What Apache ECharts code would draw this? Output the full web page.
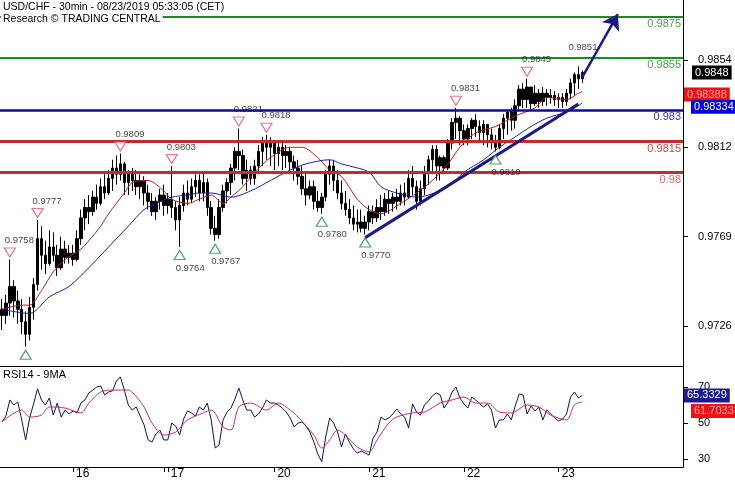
<!DOCTYPE html>
<html><head><meta charset="utf-8">
<script src="https://cdn.jsdelivr.net/npm/echarts@6/dist/echarts.min.js"></script>
<style>html,body{margin:0;padding:0;background:#fff}#c{width:735px;height:480px}</style>
</head><body><div id="c"></div>
<script>
// ---- data (hourly bars, [open, close, low, high]) ----
const candles = [
[0.9734,0.9731,0.9724,0.9739],[0.9731,0.9737,0.9727,0.9741],[0.9737,0.9745,0.9731,0.9758],[0.9745,0.9738,0.9730,0.9748],
[0.9738,0.9734,0.9727,0.9743],[0.9734,0.9728,0.9722,0.9739],[0.9728,0.9722,0.9716,0.9733],[0.9722,0.9735,0.9719,0.9740],
[0.9735,0.9746,0.9729,0.9749],[0.9746,0.9768,0.9743,0.9777],[0.9768,0.9760,0.9753,0.9774],[0.9760,0.9756,0.9751,0.9767],
[0.9756,0.9764,0.9755,0.9772],[0.9764,0.9760,0.9757,0.9771],[0.9760,0.9754,0.9750,0.9765],[0.9754,0.9763,0.9753,0.9769],
[0.9763,0.9759,0.9756,0.9767],[0.9759,0.9761,0.9756,0.9765],[0.9761,0.9758,0.9755,0.9765],[0.9758,0.9768,0.9757,0.9772],
[0.9768,0.9778,0.9765,0.9782],[0.9778,0.9783,0.9772,0.9787],[0.9783,0.9781,0.9775,0.9789],[0.9781,0.9788,0.9779,0.9791],
[0.9788,0.9785,0.9782,0.9794],[0.9785,0.9793,0.9784,0.9797],[0.9793,0.9790,0.9787,0.9799],[0.9790,0.9797,0.9789,0.9801],
[0.9797,0.9802,0.9791,0.9806],[0.9802,0.9799,0.9794,0.9808],[0.9799,0.9804,0.9796,0.9809],[0.9804,0.9795,0.9789,0.9805],
[0.9795,0.9799,0.9789,0.9801],[0.9799,0.9796,0.9791,0.9802],[0.9796,0.9793,0.9789,0.9801],[0.9793,0.9796,0.9787,0.9799],
[0.9796,0.9790,0.9784,0.9798],[0.9790,0.9786,0.9782,0.9794],[0.9786,0.9781,0.9779,0.9790],[0.9781,0.9786,0.9777,0.9788],
[0.9786,0.9789,0.9782,0.9792],[0.9789,0.9784,0.9779,0.9794],[0.9784,0.9787,0.9780,0.9790],[0.9787,0.9783,0.9778,0.9803],
[0.9783,0.9777,0.9772,0.9786],[0.9777,0.9784,0.9764,0.9788],[0.9784,0.9790,0.9781,0.9794],[0.9790,0.9787,0.9784,0.9796],
[0.9787,0.9793,0.9785,0.9797],[0.9793,0.9796,0.9788,0.9799],[0.9796,0.9790,0.9786,0.9799],[0.9790,0.9795,0.9786,0.9800],
[0.9795,0.9783,0.9779,0.9797],[0.9783,0.9773,0.9770,0.9786],[0.9773,0.9770,0.9767,0.9779],[0.9770,0.9783,0.9768,0.9787],
[0.9783,0.9791,0.9781,0.9794],[0.9791,0.9795,0.9785,0.9797],[0.9795,0.9802,0.9789,0.9804],[0.9802,0.9810,0.9796,0.9812],
[0.9810,0.9808,0.9801,0.9821],[0.9808,0.9797,0.9794,0.9811],[0.9797,0.9801,0.9791,0.9806],[0.9801,0.9797,0.9794,0.9803],
[0.9797,0.9803,0.9794,0.9806],[0.9803,0.9810,0.9799,0.9813],[0.9810,0.9815,0.9803,0.9817],[0.9815,0.9812,0.9806,0.9818],
[0.9812,0.9814,0.9803,0.9817],[0.9814,0.9809,0.9801,0.9815],[0.9809,0.9812,0.9803,0.9814],[0.9812,0.9808,0.9801,0.9814],
[0.9808,0.9810,0.9802,0.9813],[0.9810,0.9805,0.9799,0.9812],[0.9805,0.9802,0.9796,0.9808],[0.9802,0.9798,0.9794,0.9806],
[0.9798,0.9792,0.9789,0.9803],[0.9792,0.9789,0.9784,0.9799],[0.9789,0.9793,0.9787,0.9796],[0.9793,0.9786,0.9782,0.9796],
[0.9786,0.9783,0.9781,0.9791],[0.9783,0.9788,0.9780,0.9790],[0.9788,0.9799,0.9786,0.9801],[0.9799,0.9803,0.9794,0.9806],
[0.9803,0.9796,0.9791,0.9806],[0.9796,0.9790,0.9787,0.9801],[0.9790,0.9785,0.9782,0.9796],[0.9785,0.9782,0.9779,0.9791],
[0.9782,0.9778,0.9775,0.9787],[0.9778,0.9775,0.9772,0.9784],[0.9775,0.9776,0.9771,0.9782],[0.9776,0.9773,0.9771,0.9782],
[0.9773,0.9776,0.9770,0.9779],[0.9776,0.9781,0.9772,0.9784],[0.9781,0.9778,0.9775,0.9784],[0.9778,0.9783,0.9776,0.9787],
[0.9783,0.9781,0.9777,0.9789],[0.9781,0.9787,0.9779,0.9790],[0.9787,0.9785,0.9780,0.9791],[0.9785,0.9788,0.9781,0.9790],
[0.9788,0.9786,0.9782,0.9792],[0.9786,0.9790,0.9784,0.9794],[0.9790,0.9788,0.9784,0.9795],[0.9788,0.9797,0.9787,0.9801],
[0.9797,0.9793,0.9789,0.9803],[0.9793,0.9786,0.9782,0.9796],[0.9786,0.9792,0.9784,0.9796],[0.9792,0.9800,0.9789,0.9803],
[0.9800,0.9806,0.9794,0.9808],[0.9806,0.9811,0.9799,0.9813],[0.9811,0.9803,0.9796,0.9813],[0.9803,0.9807,0.9796,0.9808],
[0.9807,0.9802,0.9799,0.9808],[0.9802,0.9814,0.9801,0.9816],[0.9814,0.9824,0.9811,0.9826],[0.9824,0.9826,0.9816,0.9831],
[0.9826,0.9820,0.9813,0.9827],[0.9820,0.9816,0.9813,0.9823],[0.9816,0.9821,0.9813,0.9823],[0.9821,0.9825,0.9816,0.9826],
[0.9825,0.9822,0.9817,0.9828],[0.9822,0.9819,0.9815,0.9825],[0.9819,0.9823,0.9813,0.9825],[0.9823,0.9818,0.9812,0.9823],
[0.9818,0.9815,0.9811,0.9821],[0.9815,0.9812,0.9810,0.9818],[0.9812,0.9821,0.9811,0.9823],[0.9821,0.9826,0.9816,0.9828],
[0.9826,0.9829,0.9818,0.9830],[0.9829,0.9825,0.9820,0.9831],[0.9825,0.9832,0.9821,0.9835],[0.9832,0.9840,0.9830,0.9842],
[0.9840,0.9835,0.9831,0.9843],[0.9835,0.9841,0.9831,0.9845],[0.9841,0.9833,0.9830,0.9841],[0.9833,0.9838,0.9832,0.9842],
[0.9838,0.9834,0.9831,0.9840],[0.9834,0.9838,0.9832,0.9841],[0.9838,0.9836,0.9832,0.9840],[0.9836,0.9837,0.9833,0.9840],
[0.9837,0.9835,0.9832,0.9839],[0.9835,0.9836,0.9831,0.9838],[0.9836,0.9834,0.9831,0.9838],[0.9834,0.9838,0.9832,0.9840],
[0.9838,0.9843,0.9835,0.9845],[0.9843,0.9847,0.9837,0.9848],[0.9847,0.9845,0.9840,0.9851],[0.9845,0.9848,0.9843,0.9849]
];
// moving averages as [barIndex, value]
const redMA = [[0,0.9734],[5,0.9736],[7,0.9736],[10,0.9743],[13,0.9752],[16,0.9758],[20,0.9763],[22,0.9767],[25,0.9774],[27,0.9780],[31,0.9790],[33,0.9795],[37,0.9796],[41,0.9791],[43,0.9787],[47,0.9785],[50,0.9787],[53,0.9789],[56,0.9785],[58,0.9788],[61,0.9793],[64,0.9800],[68,0.9807],[73,0.9812],[76,0.9812],[80,0.9807],[83,0.9801],[86,0.9798],[90,0.9787],[93,0.9782],[96,0.9780],[101,0.9785],[105,0.9790],[109,0.9796],[113,0.9804],[116,0.9812],[120,0.9819],[125,0.9822],[130,0.9827],[135,0.9831],[138,0.9836],[143,0.9835],[146,0.9838],[147,0.98388]];
const blueMA = [[0,0.9734],[7,0.9732],[12,0.9740],[17,0.9745],[22,0.9754],[27,0.9764],[32,0.9774],[36,0.9782],[39,0.9785],[43,0.9788],[47,0.9789],[50,0.9790],[53,0.9790],[58,0.9788],[63,0.9791],[68,0.9796],[73,0.9801],[77,0.9804],[83,0.9806],[86,0.9804],[88,0.9803],[93,0.9800],[96,0.9793],[100,0.9790],[105,0.9788],[108,0.9789],[113,0.9793],[117,0.9800],[122,0.9806],[126,0.9812],[130,0.9817],[134,0.9822],[138,0.9826],[143,0.9829],[146,0.9832],[147,0.98334]];
const rsi = [50.6,53.9,62.8,60,61.7,51.7,40.6,52.8,60.6,69,
62.8,60,63.9,54.4,61.1,53.3,57.2,55,56.7,55.6,
61.1,62.8,66.7,68.3,70,70.6,65.6,67.2,67.8,73.3,
75.6,68.3,60,57.2,58.9,53.9,48.9,40.6,39.4,43.9,
46.1,40.6,40.6,50,48.3,43.3,52.2,56.7,55.6,53.9,
58.9,57.2,61.1,51.7,36.1,37.8,51.7,56.1,58.3,63.3,
69.4,62.8,57.2,57.2,53.3,55,58.3,62.8,61.1,61.1,
60,58.3,56.1,52.8,47.8,50,50.6,48.3,45,39.4,
32.8,28.5,42.2,52.8,50,45,36.7,43.9,39.4,35.6,
33.3,34.4,33.3,32.2,41.7,45,53.3,51.7,52.8,55,
57.8,55,53.3,47.2,60.6,56.1,54.4,60,62.2,65,
66.7,65.6,58.3,61.7,67.2,70,63.9,60.6,58.3,64.4,
62.8,60.6,58.9,60.6,57.2,47.2,51.7,51.7,55,51.7,
59.4,66.1,65.6,55,59.4,56.7,58.9,51.7,57.2,55,
52.8,51.1,52.2,55,64.4,67.2,63.9,65.33];
const rsiMA = [[0,50.6],[5,57.2],[7,53.3],[10,54.4],[12,58.9],[16,58.3],[20,55.6],[22,61.1],[25,67.2],[28,68.3],[32,68.3],[33,67.2],[36,58.9],[38,50],[41,43.3],[44,45],[47,51.7],[51,55.6],[53,57.2],[56,47.8],[58,46.1],[60,58.9],[63,61.1],[67,57.2],[70,61.1],[73,57.2],[75,53.3],[79,43.3],[81,36.1],[83,40.6],[85,46.1],[87,43.3],[90,36.7],[93,33.9],[95,40.6],[98,50],[100,53.3],[104,55.6],[107,56.1],[111,61.1],[114,62.8],[117,64.4],[120,61.1],[123,61.1],[126,56.1],[129,55.6],[133,60],[136,58.9],[139,54.4],[143,51.7],[145,60],[147,61.7]];
// horizontal levels
const levelValues = [0.9875, 0.9855, 0.9830, 0.9815, 0.9800];
const levelLabels = ['0.9875', '0.9855', '0.983', '0.9815', '0.98'];
// swing markers [barIndex, price]
const highMarks = [[2,0.9758],[9,0.9777],[30,0.9809],[43,0.9803],[60,0.9821],[67,0.9818],[115,0.9831],[133,0.9845]];
const lowMarks = [[6,0.9716],[45,0.9764],[54,0.9767],[81,0.9780],[92,0.9770],[125,0.9810]];
const lowLabeled = [[45,0.9764],[54,0.9767],[81,0.9780],[92,0.9770],[125,0.9810]];
const peakLabel = [[146,0.9851]];
// trendline and projection arrow [barIndex, price]
const trendLine = [[92,0.97685],[146,0.98328]];
const projection = [[147,0.98458],[156,0.98761]];
// last values for axis tags
const lastPrice = 0.9848, lastRed = 0.98388, lastBlue = 0.98334, lastRsi = 65.3329, lastRsiMA = 61.7033;
// ticks
const priceTicks = [0.9726, 0.9769, 0.9812, 0.9854];
const rsiTicks = [30, 50, 70];
const dayTicks = [[18,'16'],[42,'17'],[69,'20'],[93,'21'],[117,'22'],[141,'23']];
const extraTicks = [41];
const NCAT = 173;

// ---- build ----
const FF = '"Liberation Sans", Arial, sans-serif';
const categories = Array.from({length: NCAT}, (_, k) => String(k));
const dayMap = {}; dayTicks.forEach(d => dayMap[d[0]] = d[1]);
const isDay = (i) => dayMap[i] !== undefined;
const isTick = (i) => isDay(i) || extraTicks.indexOf(i) >= 0;

const levelStyles = [
  {line:'#1e8c1e', w:2, text:'#4f9f4f'},
  {line:'#1e8c1e', w:2, text:'#4f9f4f'},
  {line:'#0a0aa6', w:2.5, text:'#3535a5'},
  {line:'#c42a2e', w:3, text:'#d04848'},
  {line:'#c42a2e', w:3, text:'#e06a6a'}
];
const tag = (v, text, bg, fg, dist, off) => ({
  yAxis: v,
  lineStyle: {color: 'rgba(0,0,0,0)', width: 1, type: 'solid'},
  label: {show: true, position: 'end', formatter: text, backgroundColor: bg, color: fg,
    padding: [2, 3, 1, 3], fontSize: 11, fontFamily: FF, distance: dist, offset: [0, off]}
});

const priceMarkLines = levelValues.map((v, k) => ({
  yAxis: v,
  lineStyle: {color: levelStyles[k].line, width: levelStyles[k].w, type: 'solid'},
  label: {show: true, position: 'insideEndBottom', formatter: levelLabels[k], color: levelStyles[k].text,
    fontSize: 11, fontFamily: FF, distance: 2}
}));
priceMarkLines.push([
  {coord: trendLine[0], lineStyle: {color: '#1b1b80', width: 3, type: 'solid'}},
  {coord: trendLine[1]}
]);
priceMarkLines.push([
  {coord: projection[0], symbol: 'none', lineStyle: {color: '#1b1b80', width: 2.5, type: 'solid'}},
  {coord: projection[1], symbol: 'arrow', symbolSize: 15}
]);
priceMarkLines.push(tag(lastPrice, lastPrice.toFixed(4), '#000', '#fff', 9, 0));

const labelSeries = (data, dx, dy) => ({
  type: 'scatter', xAxisIndex: 0, yAxisIndex: 0, data: data, symbolSize: 1,
  itemStyle: {color: 'rgba(0,0,0,0)'}, silent: true, z: 6,
  label: {show: true, position: 'inside', align: 'left', verticalAlign: 'middle', offset: [dx, dy],
    formatter: p => p.value[1].toFixed(4), color: '#111', fontSize: 9.5, fontFamily: FF}
});
const ml = (data) => ({silent: true, symbol: ['none', 'none'], precision: 6, label: {show: false},
  lineStyle: {type: 'solid'}, animation: false, data: data});

const option = {
  animation: false,
  backgroundColor: '#fff',
  title: [
    {text: 'USD/CHF - 30min - 08/23/2019 05:33:05 (CET)', left: 1, top: 1, padding: [1, 2],
      textStyle: {fontSize: 10.5, fontWeight: 'normal', color: '#000', fontFamily: FF}},
    {text: 'Research \u00A9 TRADING CENTRAL', left: 1, top: 13, padding: [1, 2], backgroundColor: '#fff',
      textStyle: {fontSize: 10.5, fontWeight: 'normal', color: '#000', fontFamily: FF}},
    {text: 'RSI14 - 9MA', left: 1, top: 368, padding: [1, 2],
      textStyle: {fontSize: 11, fontWeight: 'normal', color: '#000', fontFamily: FF}}
  ],
  grid: [
    {left: 0, right: 52, top: 0, height: 366},
    {left: 0, right: 52, top: 366, height: 101}
  ],
  xAxis: [
    {type: 'category', gridIndex: 0, data: categories, boundaryGap: true,
      axisLine: {show: true, lineStyle: {color: '#000', width: 1}}, axisTick: {show: false},
      axisLabel: {show: false}, splitLine: {show: false}},
    {type: 'category', gridIndex: 1, data: categories, boundaryGap: true,
      axisLine: {show: true, lineStyle: {color: '#000', width: 1}},
      axisTick: {show: true, alignWithLabel: true, interval: (i) => isTick(i), length: 5, lineStyle: {color: '#000'}},
      axisLabel: {show: true, interval: (i) => isDay(i), formatter: (v, i) => dayMap[i] || '',
        align: 'left', margin: 1, padding: [0, 0, 0, 3], fontSize: 12, color: '#000', fontFamily: FF},
      splitLine: {show: false}}
  ],
  yAxis: [
    {type: 'value', gridIndex: 0, position: 'right', min: 0.97067, max: 0.98829,
      axisLine: {show: true, lineStyle: {color: '#000'}},
      axisTick: {show: true, customValues: priceTicks, length: 5, lineStyle: {color: '#000'}},
      axisLabel: {show: true, customValues: priceTicks, formatter: v => v.toFixed(4), margin: 15,
        fontSize: 11, color: '#000', fontFamily: FF},
      splitLine: {show: false}},
    {type: 'value', gridIndex: 1, position: 'right', min: 25.56, max: 81.67,
      axisLine: {show: true, lineStyle: {color: '#000'}},
      axisTick: {show: true, customValues: rsiTicks, length: 5, lineStyle: {color: '#000'}},
      axisLabel: {show: true, customValues: rsiTicks, formatter: v => String(v), margin: 15,
        fontSize: 11, color: '#000', fontFamily: FF},
      splitLine: {show: false}}
  ],
  series: [
    {type: 'candlestick', xAxisIndex: 0, yAxisIndex: 0, data: candles, barWidth: 3, clip: false,
      itemStyle: {color: '#000', color0: '#000', borderColor: '#000', borderColor0: '#000', borderWidth: 1},
      markLine: ml(priceMarkLines)},
    {type: 'line', xAxisIndex: 0, yAxisIndex: 0, data: redMA, showSymbol: false, smooth: 0.3, clip: false,
      lineStyle: {color: '#b51f1f', width: 1}, z: 3,
      markLine: ml([tag(lastRed, lastRed.toFixed(5), '#ee1111', '#ffaaaa', 1, 3)])},
    {type: 'line', xAxisIndex: 0, yAxisIndex: 0, data: blueMA, showSymbol: false, smooth: 0.3, clip: false,
      lineStyle: {color: '#1f1f9a', width: 1}, z: 3,
      markLine: ml([tag(lastBlue, lastBlue.toFixed(5), '#0000dd', '#fff', 8, 4)])},
    {type: 'scatter', xAxisIndex: 0, yAxisIndex: 0, data: highMarks, symbol: 'triangle', symbolRotate: 180,
      symbolSize: [11, 9], symbolOffset: [0, -7], z: 5, silent: true,
      itemStyle: {color: '#fff', borderColor: '#e4507a', borderWidth: 1.2}},
    {type: 'scatter', xAxisIndex: 0, yAxisIndex: 0, data: lowMarks, symbol: 'triangle',
      symbolSize: [11, 9], symbolOffset: [0, 8], z: 5, silent: true,
      itemStyle: {color: '#fff', borderColor: '#2a8a44', borderWidth: 1.2}},
    labelSeries(highMarks, -5, -19),
    labelSeries(lowLabeled, -4, 21),
    labelSeries(peakLabel, -10, -19),
    {type: 'line', xAxisIndex: 1, yAxisIndex: 1, data: rsi, showSymbol: false, clip: false,
      lineStyle: {color: '#12125c', width: 1}, z: 3,
      markLine: ml([tag(lastRsi, lastRsi.toFixed(4), '#1a1a90', '#fff', 1, 0)])},
    {type: 'line', xAxisIndex: 1, yAxisIndex: 1, data: rsiMA, showSymbol: false, smooth: 0.3, clip: false,
      lineStyle: {color: '#c8305a', width: 1}, z: 4,
      markLine: ml([tag(lastRsiMA, lastRsiMA.toFixed(4), '#ee1111', '#ffaaaa', 8, 9)])}
  ]
};
const chart = echarts.init(document.getElementById('c'), null, {renderer: 'canvas'});
chart.setOption(option);
</script>
</body></html>
